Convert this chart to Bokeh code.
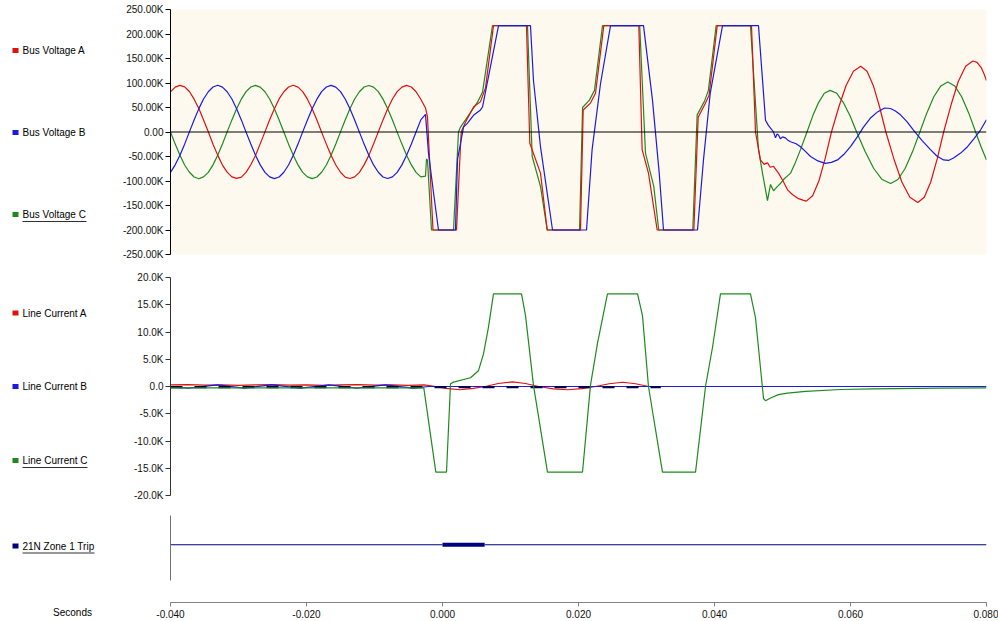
from bokeh.plotting import figure
from bokeh.layouts import row, column
from bokeh.models import Range1d, FixedTicker, CustomJSTickFormatter, Span, ColumnDataSource
from bokeh.core.properties import value
from bokeh.embed import file_html
from bokeh.resources import INLINE

FONT = "Liberation Sans"

# ---------------- data (time in ms, values in K) ----------------
prefault_t_ms = [-40.00, -39.31, -38.61, -37.92, -37.22, -36.53, -35.83, -35.14, -34.44, -33.75,
                 -33.06, -32.36, -31.67, -30.97, -30.28, -29.58, -28.89, -28.19, -27.50, -26.81,
                 -26.11, -25.42, -24.72, -24.03, -23.33, -22.64, -21.94, -21.25, -20.56, -19.86,
                 -19.17, -18.47, -17.78, -17.08, -16.39, -15.69, -15.00, -14.31, -13.61, -12.92,
                 -12.22, -11.53, -10.83, -10.14, -9.44, -8.75, -8.06, -7.36, -6.67, -5.97,
                 -5.28, -4.58, -3.89, -3.19, -2.50]

bus_va_pre = [82.0, 91.5, 95.2, 92.0, 82.6, 67.0, 47.8, 24.3, 0.4, -24.9, -47.2, -67.5, -82.0, -91.6,
              -94.7, -92.1, -82.5, -66.9, -47.8, -24.2, 0.3, 24.9, 47.3, 67.5, 82.1, 91.9, 95.3, 91.6,
              82.5, 67.0, 47.6, 24.4, -0.3, -24.8, -47.3, -67.4, -82.2, -92.0, -94.8, -91.6, -82.4,
              -67.1, -47.7, -24.5, 0.2, 24.7, 47.4, 67.3, 82.4, 91.7, 95.1, 91.9, 82.2, 66.8, 49.0]
bus_vb_pre = [-82.5, -67.0, -47.3, -24.8, 0.2, 24.5, 47.7, 67.4, 82.1, 91.9, 95.4, 91.7, 82.2, 67.3,
              47.4, 24.7, -0.2, -24.5, -47.6, -67.1, -82.4, -91.7, -95.2, -91.9, -82.1, -67.4, -47.3,
              -24.7, 0.3, 24.6, 47.5, 67.0, 82.4, 91.8, 95.1, 91.6, 82.3, 67.3, 47.4, 24.5, -0.2,
              -24.7, -47.5, -67.2, -82.2, -91.9, -95.0, -91.7, -82.4, -67.1, -47.6, -24.4, 0.1, 24.8, 36.0]
bus_vc_pre = [0.0, -24.7, -47.4, -67.3, -82.2, -91.9, -95.3, -91.6, -82.4, -67.1, -47.6, -24.5, 0.2,
              24.7, 47.5, 67.2, 82.4, 91.8, 95.2, 91.7, 82.2, 67.3, 47.4, 24.5, -0.1, -24.8, -47.4,
              -67.2, -82.3, -91.7, -95.1, -91.9, -82.2, -67.3, -47.5, -24.6, 0.2, 24.6, 47.4, 67.3,
              82.2, 91.9, 95.0, 91.7, 82.4, 67.1, 47.5, 24.5, -0.2, -24.7, -47.4, -67.2, -82.3, -91.5, -90.0]

bus_va_fault_t_ms = [-2.21, -1.40, 2.06, 2.50, 2.75, 3.38, 4.56, 5.59, 6.32, 7.50, 12.35, 12.84, 14.41,
                     15.40, 20.29, 20.69, 21.76, 22.50, 23.72, 28.87, 29.36, 30.29, 31.57, 36.96, 37.60,
                     38.68, 39.20, 40.40, 45.44, 46.03, 46.76, 47.30, 47.79, 48.20, 48.68, 49.41, 50.00,
                     50.74, 51.50, 52.35, 53.00, 53.50, 54.43, 55.35, 56.28, 57.20, 58.28, 59.35, 60.43,
                     61.50, 62.43, 63.35, 64.28, 65.20, 66.38, 67.55, 68.73, 69.90, 70.85, 71.80, 72.75,
                     73.70, 74.78, 75.85, 76.93, 78.00, 78.60, 79.20, 79.60, 80.00]
bus_va_fault_kv = [31, -200, -200, -70, 0, 20, 51, 62, 90, 217, 217, -23, -84, -200, -200, 45, 59, 79,
                   217, 217, -36, -84, -200, -200, 30, 59, 75, 217, 217, 0, -57, -66, -63, -72, -70,
                   -84, -98, -118, -128, -136, -139, -141, -130, -100, -54, 0, 51, 95, 124, 134, 124,
                   95, 51, 0, -55, -102, -133, -144, -133, -102, -55, 0, 55, 103, 134, 145, 142, 132,
                   120, 105]

bus_vb_fault_t_ms = [-2.06, -1.32, -0.59, 1.91, 2.21, 2.65, 3.09, 3.68, 4.56, 5.59, 5.88, 8.24, 12.94,
                     13.38, 14.41, 16.18, 21.18, 22.00, 23.24, 24.71, 29.56, 30.88, 31.87, 32.50, 37.50,
                     38.38, 39.37, 41.18, 46.47, 47.50, 47.90, 48.24, 48.68, 48.97, 49.20, 49.41, 49.70,
                     50.00, 50.44, 50.80, 51.18, 52.00, 52.65, 53.40, 54.12, 55.20, 56.30, 57.20, 58.09,
                     59.00, 60.00, 61.00, 61.91, 62.90, 63.97, 65.00, 65.88, 66.60, 67.35, 68.30, 69.26,
                     70.50, 71.76, 72.70, 73.68, 74.40, 75.15, 76.20, 77.21, 78.20, 79.12, 80.00]
bus_vb_fault_kv = [-43, -124, -200, -200, -56, -23, 10, 18, 34, 45, 51, 217, 217, 105, -30, -200,
                   -200, -36, 99, 217, 217, 65, -84, -200, -200, -57, 79, 217, 217, 24, 14, 8, 0, -12,
                   -4, -6, -14, -10, -12, -17, -20, -24, -30, -40, -50, -59, -64, -62, -57, -46, -30,
                   -10, 10, 28, 41, 49, 48, 43, 35, 21, 4, -17, -36, -49, -57, -58, -53, -43, -30, -13,
                   4, 25]

bus_vc_fault_t_ms = [-2.35, -2.20, -1.62, 1.62, 2.35, 2.65, 3.68, 5.15, 5.88, 7.35, 12.50, 13.19, 14.41,
                     15.40, 20.15, 20.60, 21.60, 22.35, 23.53, 29.00, 29.85, 31.07, 31.80, 36.81, 37.45,
                     38.53, 39.10, 40.24, 45.29, 46.47, 47.06, 47.79, 48.24, 48.68, 49.26, 49.70, 50.15,
                     50.70, 51.18, 51.90, 52.65, 53.60, 54.45, 55.30, 56.15, 57.00, 57.98, 58.95, 59.93,
                     60.90, 62.15, 63.40, 64.65, 65.90, 66.98, 68.05, 69.13, 70.20, 71.23, 72.25, 73.28,
                     74.30, 75.33, 76.35, 77.38, 78.40, 79.20, 80.00]
bus_vc_fault_kv = [-55, -58, -200, -200, 0, 10, 31, 61, 81, 217, 217, -50, -111, -200, -200, 50, 65,
                   85, 217, 217, -43, -111, -200, -200, 35, 63, 85, 217, 217, -36, -84, -140, -107,
                   -120, -111, -105, -97, -90, -84, -62, -36, 0, 33, 60, 79, 85, 79, 60, 33, 0, -40,
                   -74, -97, -105, -97, -74, -40, 0, 39, 72, 94, 102, 94, 72, 39, 0, -30, -57]

line_ia_t_ms = [-40.0, -37.5, -35.0, -32.5, -30.0, -27.5, -25.0, -22.5, -20.0, -17.5, -15.0, -12.5,
                -10.0, -7.5, -5.0, -2.7, -1.0, 0.5, 2.6, 4.5, 6.3, 8.2, 10.3, 12.2, 14.1, 16.3, 18.4,
                20.5, 22.5, 24.5, 26.5, 28.4, 30.3, 32.1]
line_ia_k = [0.30, 0.35, 0.25, 0.30, 0.20, 0.30, 0.35, 0.25, 0.30, 0.20, 0.30, 0.35, 0.25, 0.30, 0.20,
             0.30, 0.00, -0.35, -0.60, -0.35, 0.00, 0.55, 0.85, 0.55, 0.00, -0.45, -0.60, -0.40, 0.00,
             0.50, 0.78, 0.50, 0.00, -0.05]

line_ib_t_ms = [-40.0, -37.3, -33.1, -29.2, -25.1, -20.9, -16.7, -12.6, -8.4, -4.3, -2.0, 80.0]
line_ib_k = [-0.10, -0.30, 0.30, -0.30, 0.30, -0.30, 0.30, -0.30, 0.30, -0.30, 0.00, 0.00]

line_ic_t_ms = [-40.0, -2.75, -0.98, 0.59, 1.18, 1.62, 4.12, 5.29, 6.03, 6.76, 7.50, 11.62, 12.21,
                13.38, 15.44, 20.59, 21.76, 22.79, 24.26, 28.68, 29.41, 30.29, 32.35, 37.21, 38.68,
                39.71, 40.88, 45.29, 46.03, 47.21, 47.50, 48.24, 49.41, 50.74, 53.38, 58.53, 63.38,
                73.20, 80.00]
line_ic_k = [-0.25, -0.25, -15.7, -15.7, 0.5, 0.8, 1.6, 2.9, 6.0, 10.9, 17.0, 17.0, 13.0, 0.2, -15.7,
             -15.7, 0.2, 7.9, 17.0, 17.0, 13.0, 0.0, -15.7, -15.7, 0.0, 7.2, 17.0, 17.0, 12.6, -2.2,
             -2.6, -2.1, -1.5, -1.2, -0.9, -0.55, -0.42, -0.3, -0.25]

aux_dark_t_ms = [-40.0, 32.1]
aux_dark_k = [-0.10, -0.10]

trip_t_ms = [-40.0, 0.0, 6.2, 80.0]
trip_state = [0, 1, 0]

volt_ticks = [-250, -200, -150, -100, -50, 0, 50, 100, 150, 200, 250]
curr_ticks = [-20, -15, -10, -5, 0, 5, 10, 15, 20]
time_ticks = [-0.040, -0.020, 0.000, 0.020, 0.040, 0.060, 0.080]

volt_names = ["Bus Voltage A", "Bus Voltage B", "Bus Voltage C"]
curr_names = ["Line Current A", "Line Current B", "Line Current C"]
trip_name = "21N Zone 1 Trip"
axis_name = "Seconds"

# ---------------- styles / layout ----------------
RED, BLUE, GREEN, NAVY = "#E01010", "#1A1AE0", "#1E8A1E", "#000080"
TOTAL_W, TOTAL_H = 998, 620
LEG_W = 116
PANEL_W = TOTAL_W - LEG_W
BORDER_L = 54
BORDER_R = 12


def ms_to_s(lst):
    return [t / 1000.0 for t in lst]


x_range = Range1d(-0.040, 0.080)


def panel(height, btop, bbottom, y_range, axis=True):
    p = figure(width=PANEL_W, height=height, x_range=x_range, y_range=y_range,
               output_backend="svg", toolbar_location=None,
               x_axis_location=None, y_axis_location="left" if axis else None,
               min_border_left=BORDER_L, min_border_right=BORDER_R,
               min_border_top=btop, min_border_bottom=bbottom)
    p.outline_line_color = None
    p.grid.visible = False
    p.background_fill_color = None
    p.border_fill_color = "white"
    return p


def style_yaxis(ax, color):
    ax.axis_line_color = color
    ax.major_tick_line_color = color
    ax.minor_tick_line_color = None
    ax.major_tick_out = 5
    ax.major_tick_in = 0
    ax.major_label_standoff = 2
    ax.major_label_text_font = FONT
    ax.major_label_text_font_size = "10px"
    ax.major_label_text_color = "#111111"


# top panel: bus voltages
p_top = panel(266, 9, 12, Range1d(-250, 250))
p_top.background_fill_color = "#FDF9EE"
p_top.yaxis.ticker = FixedTicker(ticks=volt_ticks)
p_top.yaxis.formatter = CustomJSTickFormatter(
    code="return tick == 0 ? '0.00' : tick.toFixed(2) + 'K';")
style_yaxis(p_top.yaxis[0], "#000000")
p_top.line(ms_to_s(prefault_t_ms + bus_vc_fault_t_ms), bus_vc_pre + bus_vc_fault_kv,
           line_color=GREEN, line_width=1.2)
p_top.line(ms_to_s(prefault_t_ms + bus_va_fault_t_ms), bus_va_pre + bus_va_fault_kv,
           line_color=RED, line_width=1.2)
p_top.line(ms_to_s(prefault_t_ms + bus_vb_fault_t_ms), bus_vb_pre + bus_vb_fault_kv,
           line_color=BLUE, line_width=1.2)
p_top.add_layout(Span(location=0, dimension="width", line_color="black", line_width=1))

# middle panel: line currents
p_mid = panel(239, 11, 10, Range1d(-20, 20))
p_mid.yaxis.ticker = FixedTicker(ticks=curr_ticks)
p_mid.yaxis.formatter = CustomJSTickFormatter(
    code="return tick == 0 ? '0.0' : tick.toFixed(1) + 'K';")
style_yaxis(p_mid.yaxis[0], "#333333")
p_mid.line(ms_to_s(line_ia_t_ms), line_ia_k, line_color=RED, line_width=1.2)
p_mid.line(ms_to_s(line_ib_t_ms), line_ib_k, line_color=BLUE, line_width=1.2)
p_mid.line(ms_to_s(aux_dark_t_ms), aux_dark_k, line_color="#00004A", line_width=2.2,
           line_dash="12 12")
p_mid.line(ms_to_s(line_ic_t_ms), line_ic_k, line_color=GREEN, line_width=1.2)

# trip panel
TRIP_LEVEL = 0.55
p_trip = panel(85, 10, 10, Range1d(0, 1))
p_trip.yaxis.ticker = FixedTicker(ticks=[])
style_yaxis(p_trip.yaxis[0], "#707070")
seg = ColumnDataSource(dict(
    x0=ms_to_s(trip_t_ms[:-1]), x1=ms_to_s(trip_t_ms[1:]),
    y=[TRIP_LEVEL] * len(trip_state),
    lw=[4 if s else 1 for s in trip_state]))
p_trip.segment(x0="x0", y0="y", x1="x1", y1="y", line_width="lw", line_color=NAVY, source=seg)

# time axis strip
AX_H = TOTAL_H - 266 - 239 - 85
p_ax = figure(width=PANEL_W, height=AX_H, x_range=x_range, y_range=Range1d(0, 1),
              output_backend="svg", toolbar_location=None,
              x_axis_location="below", y_axis_location=None,
              min_border_left=BORDER_L, min_border_right=BORDER_R,
              min_border_top=0, min_border_bottom=16)
p_ax.outline_line_color = None
p_ax.grid.visible = False
p_ax.xaxis.ticker = FixedTicker(ticks=time_ticks)
p_ax.xaxis.formatter = CustomJSTickFormatter(code="return tick.toFixed(3);")
xa = p_ax.xaxis[0]
xa.axis_line_color = "#808080"
xa.major_tick_line_color = "#808080"
xa.minor_tick_line_color = None
xa.major_tick_out = 4
xa.major_tick_in = 0
xa.major_label_standoff = 3
xa.major_label_text_font = FONT
xa.major_label_text_font_size = "10px"
xa.major_label_text_color = "#111111"

# legend column (page-pixel coordinates)
p_leg = figure(width=LEG_W, height=TOTAL_H, x_range=Range1d(0, LEG_W), y_range=Range1d(TOTAL_H, 0),
               output_backend="svg", toolbar_location=None,
               x_axis_location=None, y_axis_location=None,
               min_border_left=0, min_border_right=0, min_border_top=0, min_border_bottom=0)
p_leg.outline_line_color = None
p_leg.grid.visible = False

leg_names = volt_names + curr_names + [trip_name]
leg_colors = [RED, BLUE, GREEN, RED, BLUE, GREEN, NAVY]
leg_y = [50, 132, 214, 312.5, 386, 460, 545.5]
underline_w = [0, 0, 64, 0, 0, 65, 72]

p_leg.rect(x=[15] * len(leg_y), y=leg_y, width=6, height=5, fill_color=leg_colors, line_color=None)
p_leg.text(x=[22] * len(leg_y), y=leg_y, text=leg_names, text_baseline="middle", text_align="left",
           text_font=value(FONT), text_font_size="10px", text_color="#000000")
ul = [(y, w) for y, w in zip(leg_y, underline_w) if w]
p_leg.segment(x0=[22] * len(ul), y0=[y + 7 for y, w in ul], x1=[22 + w for y, w in ul],
              y1=[y + 7 for y, w in ul], line_color="#303030", line_width=1)
p_leg.text(x=[72], y=[612], text=[axis_name], text_baseline="middle", text_align="center",
           text_font=value(FONT), text_font_size="10px", text_color="#000000")

layout = row(p_leg, column(p_top, p_mid, p_trip, p_ax))

open("out.html", "w").write(file_html(layout, INLINE))
